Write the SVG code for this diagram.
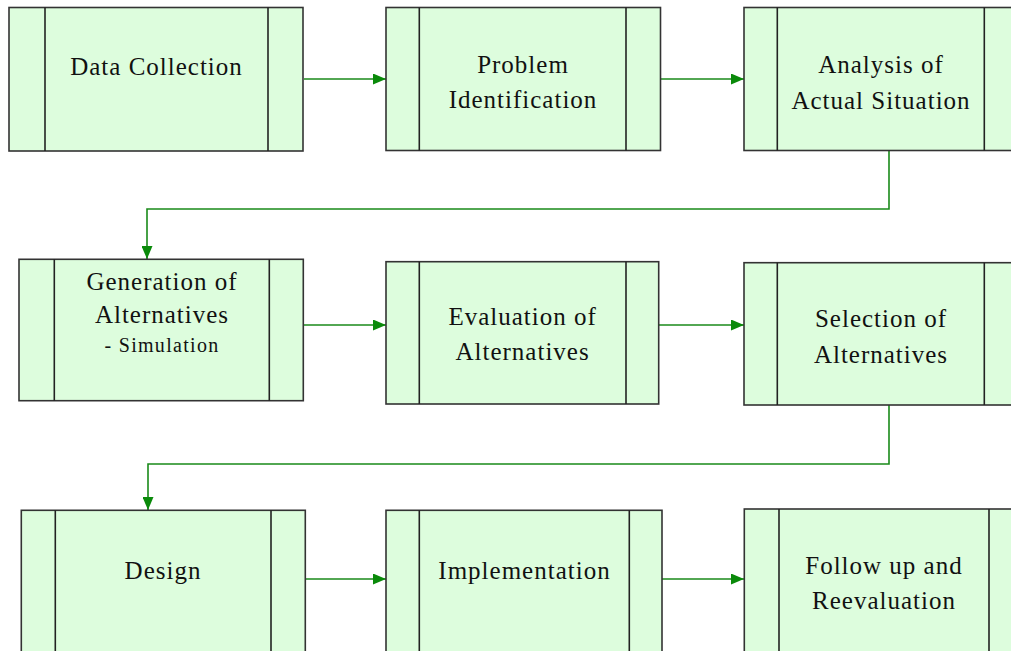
<svg xmlns="http://www.w3.org/2000/svg" width="1011" height="651" viewBox="0 0 1011 651">
<style>
.box{fill:#ddfddd;stroke:#333;stroke-width:1.6}
.div{stroke:#222;stroke-width:1.6}
.t{font-family:"Liberation Serif","Times New Roman",serif;font-size:25px;letter-spacing:1px;fill:#111;text-anchor:middle}
.s{font-family:"Liberation Serif","Times New Roman",serif;font-size:20px;letter-spacing:1.3px;fill:#111;text-anchor:middle}
.c{fill:none;stroke:#1a8a1a;stroke-width:1.6}
</style>
<defs>
<marker id="ah" viewBox="0 0 13 11" refX="13" refY="5.5" markerWidth="13" markerHeight="11" markerUnits="userSpaceOnUse" orient="auto">
<path d="M0,0 L13,5.5 L0,11 Z" fill="#0a8a0a"/>
</marker>
</defs>
<rect width="1011" height="651" fill="#fff"/>
<g id="connectors">
<line class="c" x1="304" y1="79" x2="386" y2="79" marker-end="url(#ah)"/>
<line class="c" x1="661" y1="79" x2="744" y2="79" marker-end="url(#ah)"/>
<polyline class="c" points="889,151 889,209 147,209 147,259" marker-end="url(#ah)"/>
<line class="c" x1="304" y1="325" x2="386" y2="325" marker-end="url(#ah)"/>
<line class="c" x1="659" y1="325" x2="744" y2="325" marker-end="url(#ah)"/>
<polyline class="c" points="889,405 889,464 148,464 148,510" marker-end="url(#ah)"/>
<line class="c" x1="305" y1="579" x2="386" y2="579" marker-end="url(#ah)"/>
<line class="c" x1="662" y1="579" x2="744" y2="579" marker-end="url(#ah)"/>
</g>
<g id="n1">
<rect class="box" x="9" y="7.5" width="294" height="143.5"/>
<line class="div" x1="45" y1="7.5" x2="45" y2="151"/>
<line class="div" x1="268" y1="7.5" x2="268" y2="151"/>
<text class="t" x="156.5" y="75">Data Collection</text>
</g>
<g id="n2">
<rect class="box" x="386" y="7.5" width="274.5" height="143"/>
<line class="div" x1="419.3" y1="7.5" x2="419.3" y2="150.5"/>
<line class="div" x1="626" y1="7.5" x2="626" y2="150.5"/>
<text class="t" x="523" y="73">Problem</text>
<text class="t" x="523" y="108">Identification</text>
</g>
<g id="n3">
<rect class="box" x="744" y="7.5" width="300" height="143"/>
<line class="div" x1="777.3" y1="7.5" x2="777.3" y2="150.5"/>
<line class="div" x1="984.3" y1="7.5" x2="984.3" y2="150.5"/>
<text class="t" x="881" y="73">Analysis of</text>
<text class="t" x="881" y="109">Actual Situation</text>
</g>
<g id="n4">
<rect class="box" x="19" y="259.3" width="284.3" height="141.4"/>
<line class="div" x1="54.3" y1="259.3" x2="54.3" y2="400.7"/>
<line class="div" x1="269.3" y1="259.3" x2="269.3" y2="400.7"/>
<text class="t" x="162" y="290">Generation of</text>
<text class="t" x="162" y="322.5">Alternatives</text>
<text class="s" x="162" y="352">- Simulation</text>
</g>
<g id="n5">
<rect class="box" x="386" y="261.7" width="272.7" height="142.3"/>
<line class="div" x1="419.3" y1="261.7" x2="419.3" y2="404"/>
<line class="div" x1="626" y1="261.7" x2="626" y2="404"/>
<text class="t" x="522.6" y="325">Evaluation of</text>
<text class="t" x="522.6" y="360">Alternatives</text>
</g>
<g id="n6">
<rect class="box" x="744" y="262.7" width="300" height="142.3"/>
<line class="div" x1="777.3" y1="262.7" x2="777.3" y2="405"/>
<line class="div" x1="984.3" y1="262.7" x2="984.3" y2="405"/>
<text class="t" x="881" y="327">Selection of</text>
<text class="t" x="881" y="363">Alternatives</text>
</g>
<g id="n7">
<rect class="box" x="21.3" y="510.3" width="284" height="160"/>
<line class="div" x1="55.3" y1="510.3" x2="55.3" y2="670"/>
<line class="div" x1="271" y1="510.3" x2="271" y2="670"/>
<text class="t" x="163" y="578.5">Design</text>
</g>
<g id="n8">
<rect class="box" x="386" y="510.3" width="276" height="160"/>
<line class="div" x1="419.3" y1="510.3" x2="419.3" y2="670"/>
<line class="div" x1="629.3" y1="510.3" x2="629.3" y2="670"/>
<text class="t" x="524.5" y="578.5">Implementation</text>
</g>
<g id="n9">
<rect class="box" x="744.3" y="509" width="300" height="160"/>
<line class="div" x1="779" y1="509" x2="779" y2="670"/>
<line class="div" x1="989" y1="509" x2="989" y2="670"/>
<text class="t" x="884" y="573.5">Follow up and</text>
<text class="t" x="884" y="609">Reevaluation</text>
</g>
</svg>
